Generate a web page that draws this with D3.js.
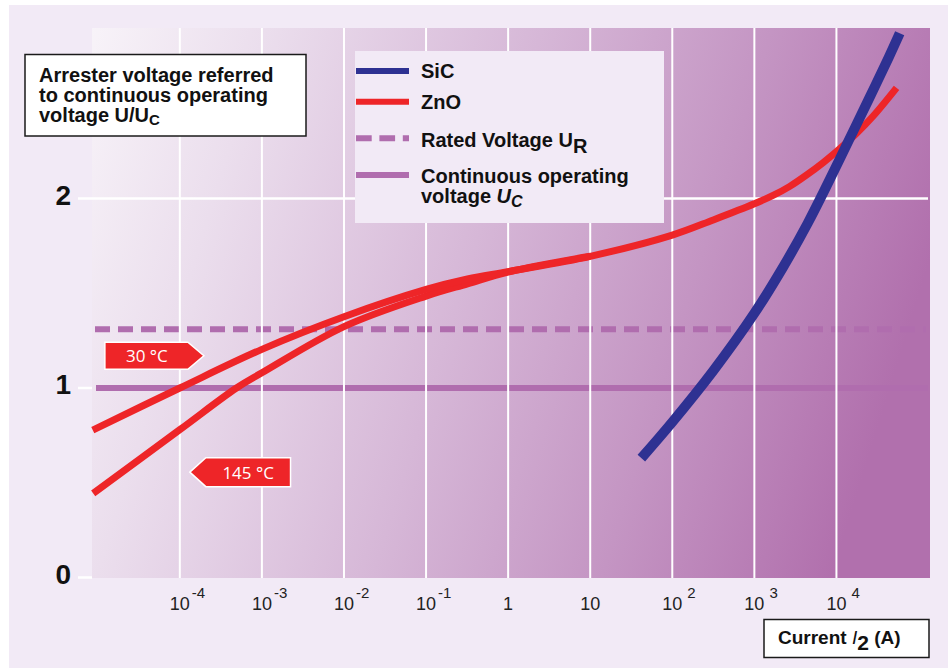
<!DOCTYPE html>
<html>
<head>
<meta charset="utf-8">
<script src="https://cdn.jsdelivr.net/npm/d3@7"></script>
<style>
  html, body { margin: 0; padding: 0; background: #ffffff; }
  svg { display: block; }
</style>
</head>
<body>
<svg id="chart" width="948" height="668"></svg>
<script>
// Discharge current (A) and arrester voltage referred to Uc
const decadeExponents = [-4, -3, -2, -1, 0, 1, 2, 3, 4];
const yTickValues = [0, 1, 2];

const zno30Current = [8.7e-6, 1e-4, 1e-3, 1e-2, 1e-1, 0.32, 1, 10, 100, 316, 1000, 1690, 2700, 4300, 6870, 1e4, 17500, 27900, 5.4e4];
const zno30Ratio   = [0.778, 1.0, 1.204, 1.376, 1.52, 1.575, 1.614, 1.695, 1.807, 1.887, 1.972, 2.016, 2.064, 2.123, 2.189, 2.247, 2.343, 2.434, 2.584];

const zno145Current = [8.8e-6, 1e-4, 4.9e-4, 1e-3, 1e-2, 1e-1, 0.32, 1, 10];
const zno145Ratio   = [0.444, 0.78, 1.0, 1.08, 1.324, 1.485, 1.55, 1.612, 1.695];

const sicCurrent = [42, 100, 316, 1000, 2240, 4450, 7870, 13900, 24500, 43400, 59000];
const sicRatio   = [0.63, 0.82, 1.091, 1.394, 1.638, 1.868, 2.08, 2.30, 2.52, 2.745, 2.872];

const ratedVoltageRatio = 1.31;
const continuousVoltageRatio = 1.0;

const legendItems = ["SiC", "ZnO", "Rated Voltage U", "Continuous operating"];
const tempLabels = ["30 °C", "145 °C"];

const COLORS = { sic: "#2e3192", zno: "#ee2528", uc: "#b06dae", grid: "#ffffff" };
const FONT = "'Liberation Sans', Arial, sans-serif";

const svg = d3.select("#chart");
const plot = { left: 92, right: 930, top: 28, bottom: 578 };

const x = d3.scaleLog()
  .domain([Math.pow(10, -5.07), Math.pow(10, 5.14)])
  .range([plot.left, plot.right]);
const y = d3.scaleLinear()
  .domain([0, 2.9])
  .range([577.5, 577.5 - 2.9 * 189.5]);

// page background
svg.append("rect").attr("x", 9).attr("y", 5).attr("width", 939).attr("height", 663).attr("fill", "#f2eaf6");

// plot gradient
const defs = svg.append("defs");
const grad = defs.append("linearGradient").attr("id", "plotGrad")
  .attr("gradientUnits", "userSpaceOnUse")
  .attr("x1", plot.left).attr("y1", 0).attr("x2", plot.right).attr("y2", 260);
[[0, "#f8f4f9"], [0.2, "#ebdeed"], [0.5, "#d6b7d7"], [0.75, "#c495c3"], [1, "#b170ad"]]
  .forEach(([o, c]) => grad.append("stop").attr("offset", o).attr("stop-color", c));

svg.append("rect")
  .attr("x", plot.left).attr("y", plot.top)
  .attr("width", plot.right - plot.left).attr("height", plot.bottom - plot.top)
  .attr("fill", "url(#plotGrad)");

// reference voltage levels
svg.append("line")
  .attr("x1", 96).attr("x2", 928)
  .attr("y1", y(continuousVoltageRatio)).attr("y2", y(continuousVoltageRatio))
  .attr("stroke", COLORS.uc).attr("stroke-width", 6);
svg.append("line")
  .attr("x1", 95).attr("x2", 926)
  .attr("y1", y(ratedVoltageRatio)).attr("y2", y(ratedVoltageRatio))
  .attr("stroke", COLORS.uc).attr("stroke-width", 6)
  .attr("stroke-dasharray", "15,8");

// grid
const decadeValues = decadeExponents.map(e => Math.pow(10, e));
svg.append("g").selectAll("line").data(decadeValues).join("line")
  .attr("x1", d => x(d)).attr("x2", d => x(d))
  .attr("y1", plot.top).attr("y2", plot.bottom)
  .attr("stroke", COLORS.grid).attr("stroke-width", 2);

svg.append("g").selectAll("line").data(yTickValues).join("line")
  .attr("x1", 78).attr("x2", d => d === 2 ? 928 : plot.left)
  .attr("y1", d => y(d)).attr("y2", d => y(d))
  .attr("stroke", COLORS.grid).attr("stroke-width", 2.5);

// y tick labels
svg.append("g").selectAll("text").data(yTickValues).join("text")
  .attr("x", 71).attr("y", d => y(d) + 6)
  .attr("text-anchor", "end")
  .attr("font-family", FONT)
  .attr("font-weight", "bold").attr("font-size", 28)
  .attr("fill", "#111")
  .text(d => d);

// x tick labels
const xLab = svg.append("g")
  .attr("font-family", FONT)
  .attr("fill", "#222");
decadeExponents.forEach(e => {
  const cx = x(Math.pow(10, e));
  if (e === 0 || e === 1) {
    xLab.append("text").attr("x", cx).attr("y", 610).attr("text-anchor", "middle")
      .attr("font-size", 18).text(e === 0 ? "1" : "10");
  } else {
    const t = xLab.append("text").attr("x", cx - 10).attr("y", 610).attr("font-size", 18);
    t.append("tspan").text("10");
    t.append("tspan").attr("dx", e < 0 ? 2 : 5).attr("dy", -12.5).attr("font-size", 15).text(String(e));
  }
});

// curves
const line = d3.line()
  .x(d => x(d[0])).y(d => y(d[1]))
  .curve(d3.curveCatmullRom.alpha(0.5));

svg.append("path")
  .datum(d3.zip(zno145Current, zno145Ratio))
  .attr("d", line).attr("fill", "none")
  .attr("stroke", COLORS.zno).attr("stroke-width", 7);
svg.append("path")
  .datum(d3.zip(zno30Current, zno30Ratio))
  .attr("d", line).attr("fill", "none")
  .attr("stroke", COLORS.zno).attr("stroke-width", 7);
svg.append("path")
  .datum(d3.zip(sicCurrent, sicRatio))
  .attr("d", line).attr("fill", "none")
  .attr("stroke", COLORS.sic).attr("stroke-width", 10);

// legend
const lg = svg.append("g");
lg.append("rect").attr("x", 355).attr("y", 51).attr("width", 309).attr("height", 172).attr("fill", "#f2eaf6");
const legendY = [71, 101.7, 138.3, 175];
const legendStroke = [COLORS.sic, COLORS.zno, COLORS.uc, COLORS.uc];
legendItems.forEach((name, i) => {
  lg.append("line").attr("x1", 356).attr("x2", 409)
    .attr("y1", legendY[i]).attr("y2", legendY[i])
    .attr("stroke", legendStroke[i]).attr("stroke-width", 6)
    .attr("stroke-dasharray", i === 2 ? "15.7,7.7" : null);
});
const legText = lg.append("g")
  .attr("font-family", FONT)
  .attr("font-weight", "bold").attr("font-size", 20).attr("fill", "#111");
legText.append("text").attr("x", 421).attr("y", 78).text(legendItems[0]);
legText.append("text").attr("x", 421).attr("y", 109).text(legendItems[1]);
const rated = legText.append("text").attr("x", 421).attr("y", 147);
rated.append("tspan").text(legendItems[2]);
rated.append("tspan").attr("dy", 6).text("R");
legText.append("text").attr("x", 421).attr("y", 183).text(legendItems[3]);
const ucText = legText.append("text").attr("x", 421).attr("y", 203);
ucText.append("tspan").text("voltage ");
ucText.append("tspan").attr("font-style", "italic").text("U");
ucText.append("tspan").attr("font-style", "italic").attr("font-size", 16).attr("dy", 4).text("C");

// y axis title box
const yt = svg.append("g");
yt.append("rect").attr("x", 25).attr("y", 54.5).attr("width", 281).attr("height", 81.5)
  .attr("fill", "#ffffff").attr("stroke", "#1a1a1a").attr("stroke-width", 1.5);
const ytText = yt.append("g")
  .attr("font-family", FONT)
  .attr("font-weight", "bold").attr("font-size", 20).attr("fill", "#111");
ytText.append("text").attr("x", 39).attr("y", 82).text("Arrester voltage referred");
ytText.append("text").attr("x", 39).attr("y", 102).text("to continuous operating");
const yt3 = ytText.append("text").attr("x", 39).attr("y", 122);
yt3.append("tspan").text("voltage U/U");
yt3.append("tspan").attr("font-size", 15).attr("dy", 3).text("C");

// x axis title box
const xt = svg.append("g");
xt.append("rect").attr("x", 764).attr("y", 619.5).attr("width", 165).attr("height", 38)
  .attr("fill", "#ffffff").attr("stroke", "#1a1a1a").attr("stroke-width", 1.5);
const xtText = xt.append("text").attr("x", 778).attr("y", 644)
  .attr("font-family", FONT)
  .attr("font-weight", "bold").attr("font-size", 19).attr("fill", "#111");
xtText.append("tspan").text("Current ");
xtText.append("tspan").attr("font-style", "italic").attr("font-weight", "normal").text("I");
xtText.append("tspan").attr("font-size", 21).attr("dy", 6).text("2");
xtText.append("tspan").attr("dy", -6).text(" (A)");

// temperature badges, anchored to the curves' region
const badges = [
  { text: tempLabels[0], tipCurrent: Math.pow(10, -3.707), ratio: 1.17, dir: "right", w: 99, h: 27 },
  { text: tempLabels[1], tipCurrent: Math.pow(10, -3.878), ratio: 0.556, dir: "left", w: 100.7, h: 29 }
];
badges.forEach(b => {
  const tx = x(b.tipCurrent), cy = y(b.ratio), hh = b.h / 2, arrow = 16;
  let pts, textX;
  if (b.dir === "right") {
    const x0 = tx - b.w;
    pts = [[x0, cy - hh], [tx - arrow, cy - hh], [tx, cy], [tx - arrow, cy + hh], [x0, cy + hh]];
    textX = x0 + (b.w - arrow) / 2 + 0.5;
  } else {
    const x1 = tx + b.w;
    pts = [[tx, cy], [tx + arrow, cy - hh], [x1, cy - hh], [x1, cy + hh], [tx + arrow, cy + hh]];
    textX = tx + arrow + (b.w - arrow) / 2;
  }
  svg.append("polygon").attr("points", pts.map(p => p.join(",")).join(" "))
    .attr("fill", COLORS.zno).attr("stroke", "#ffffff").attr("stroke-width", 1.5);
  svg.append("text").attr("x", textX).attr("y", cy + 6.5)
    .attr("text-anchor", "middle")
    .attr("font-family", "'Open Sans', 'Noto Sans', sans-serif")
    .attr("font-size", 17).attr("fill", "#ffffff")
    .text(b.text);
});
</script>
</body>
</html>
